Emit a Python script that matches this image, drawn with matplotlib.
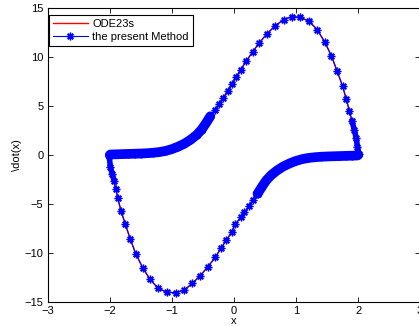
import numpy as np
import matplotlib.pyplot as plt

# upper half of the limit cycle
upper_x = [-2.00, -1.99, -1.90, -1.80, -1.70, -1.60, -1.50, -1.40, -1.30, -1.20,
           -1.10, -1.00, -0.90, -0.80, -0.70, -0.60, -0.52, -0.45, -0.38, -0.31,
           -0.24, -0.17, -0.10, -0.03, 0.03, 0.11, 0.20, 0.30, 0.41, 0.53,
           0.66, 0.80, 0.93, 1.07, 1.21, 1.34, 1.46, 1.57, 1.66, 1.75,
           1.81, 1.86, 1.90, 1.94, 1.97, 1.99, 2.01, 2.00]
upper_y = [0.00, 0.05, 0.07, 0.09, 0.11, 0.13, 0.15, 0.18, 0.23, 0.30,
           0.42, 0.60, 0.85, 1.15, 1.55, 2.05, 2.60, 3.25, 3.95, 4.60,
           5.20, 5.85, 6.55, 7.24, 7.93, 8.71, 9.59, 10.51, 11.46, 12.35,
           13.16, 13.81, 14.11, 14.05, 13.64, 12.80, 11.56, 10.13, 8.60, 7.04,
           5.68, 4.49, 3.50, 2.55, 1.70, 0.85, 0.10, 0.00]

# lower half
lower_x = [2.00, 1.99, 1.90, 1.80, 1.70, 1.60, 1.50, 1.40, 1.30, 1.20,
           1.10, 1.00, 0.90, 0.80, 0.70, 0.60, 0.52, 0.45, 0.38, 0.31,
           0.24, 0.17, 0.11, 0.02, -0.03, -0.12, -0.21, -0.30, -0.42, -0.54,
           -0.67, -0.80, -0.94, -1.08, -1.22, -1.35, -1.47, -1.58, -1.67, -1.75,
           -1.82, -1.87, -1.90, -1.93, -1.96, -1.99, -2.01, -2.00]
lower_y = [0.00, -0.05, -0.07, -0.09, -0.11, -0.13, -0.15, -0.18, -0.23, -0.30,
           -0.42, -0.60, -0.85, -1.15, -1.55, -2.05, -2.60, -3.25, -3.95, -4.60,
           -5.20, -5.85, -6.36, -7.07, -7.82, -8.67, -9.52, -10.44, -11.40, -12.30,
           -13.10, -13.78, -14.05, -14.01, -13.60, -12.70, -11.50, -10.10, -8.57, -7.04,
           -5.68, -4.42, -3.47, -2.62, -1.94, -1.19, -0.10, 0.00]

ode_x = upper_x + lower_x
ode_y = upper_y + lower_y

plt.rcParams['font.family'] = ['Liberation Sans', 'DejaVu Sans']
plt.rcParams['font.size'] = 8

fig = plt.figure(figsize=(4.19, 3.27), dpi=100)
ax = fig.add_axes([0.1138, 0.0765, 0.889, 0.899])

blue = '#0000ff'
star = (8, 2, 0)

ax.plot(ode_x, ode_y, color='#ff0000', lw=1.0, label='ODE23s', zorder=2)
ax.plot(ode_x, ode_y, color=blue, lw=0.8, marker=star, ms=5.5, mew=1.0,
        label='the present Method', zorder=3)

# the solver's steps are so close on the slow parts that the stars form a band
ax.plot(upper_x[:19], upper_y[:19], color=blue, lw=7, solid_capstyle='round', zorder=4)
ax.plot(lower_x[:19], lower_y[:19], color=blue, lw=7, solid_capstyle='round', zorder=4)
ax.plot(upper_x[42:], upper_y[42:], color=blue, lw=4, solid_capstyle='round', zorder=4)
ax.plot(lower_x[43:], lower_y[43:], color=blue, lw=4, solid_capstyle='round', zorder=4)

ax.set_xlim(-3, 3)
ax.set_ylim(-15, 15)
ax.set_xticks(np.arange(-3, 4, 1))
ax.set_yticks(np.arange(-15, 16, 5))
ax.tick_params(direction='in', top=True, right=True, length=3.5, width=0.6, pad=3)
for s in ax.spines.values():
    s.set_linewidth(0.8)

ax.set_xlabel('x', labelpad=0)
ax.set_ylabel(r'\dot(x)', labelpad=2)

leg = ax.legend(loc='upper left', bbox_to_anchor=(0.003, 0.976), fancybox=False,
                edgecolor='black', framealpha=1, borderaxespad=0, handlelength=3.2,
                borderpad=0.35, labelspacing=0.3, handletextpad=0.35)
leg.get_frame().set_linewidth(0.8)

fig.savefig('out.png', dpi=100)
